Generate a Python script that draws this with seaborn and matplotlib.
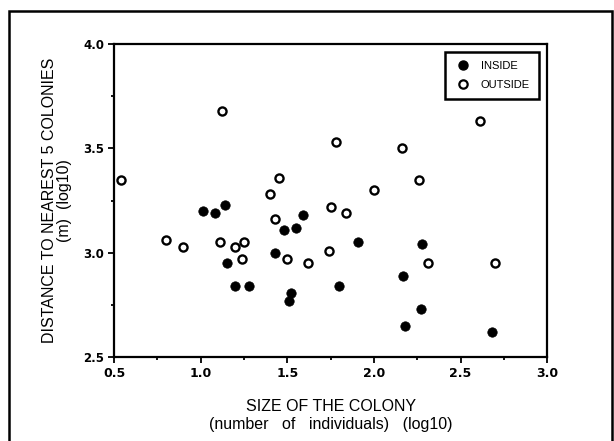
import numpy as np
import pandas as pd
import matplotlib
matplotlib.use("Agg")
import matplotlib.pyplot as plt
import seaborn as sns
from matplotlib.patches import Rectangle
from matplotlib.lines import Line2D
from matplotlib.ticker import MultipleLocator

# ---- data (log10 values) ----
inside_size = [1.01, 1.08, 1.14, 1.15, 1.20, 1.28, 1.43, 1.48, 1.55, 1.59,
               1.52, 1.51, 1.80, 1.91, 2.17, 2.28, 2.27, 2.18, 2.68]
inside_dist = [3.20, 3.19, 3.23, 2.95, 2.84, 2.84, 3.00, 3.11, 3.12, 3.18,
               2.81, 2.77, 2.84, 3.05, 2.89, 3.04, 2.73, 2.65, 2.62]

outside_size = [0.54, 1.12, 1.78, 2.61, 2.16, 1.45, 1.40, 2.00, 2.26, 1.75,
                1.84, 1.43, 0.80, 0.90, 1.11, 1.20, 1.25, 1.24, 1.50, 1.62,
                1.74, 2.31, 2.70]
outside_dist = [3.35, 3.68, 3.53, 3.63, 3.50, 3.36, 3.28, 3.30, 3.35, 3.22,
                3.19, 3.16, 3.06, 3.03, 3.05, 3.03, 3.05, 2.97, 2.97, 2.95,
                3.01, 2.95, 2.95]

df = pd.DataFrame({
    "size": inside_size + outside_size,
    "dist": inside_dist + outside_dist,
    "group": ["INSIDE"] * len(inside_size) + ["OUTSIDE"] * len(outside_size),
})

sns.set_style("ticks", {"text.color": "black", "axes.labelcolor": "black",
                        "xtick.color": "black", "ytick.color": "black"})
plt.rcParams['font.family'] = ['Liberation Sans', 'DejaVu Sans']

fig = plt.figure(figsize=(6.14, 4.41), dpi=100)
ax = fig.add_axes([0.186, 0.19, 0.705, 0.71])

sns.scatterplot(data=df[df.group == "INSIDE"], x="size", y="dist", ax=ax,
                s=46, color="black", edgecolor="black", linewidth=0.5,
                legend=False, zorder=3)
sns.scatterplot(data=df[df.group == "OUTSIDE"], x="size", y="dist", ax=ax,
                s=34, facecolor="white", edgecolor="black", linewidth=1.7,
                legend=False, zorder=3)

ax.set_xlim(0.5, 3.0)
ax.set_ylim(2.5, 4.0)
ax.xaxis.set_major_locator(MultipleLocator(0.5))
ax.xaxis.set_minor_locator(MultipleLocator(0.25))
ax.yaxis.set_major_locator(MultipleLocator(0.5))
ax.yaxis.set_minor_locator(MultipleLocator(0.25))
ax.set_xticklabels([f"{v:.1f}" for v in ax.get_xticks()])
ax.set_yticklabels([f"{v:.1f}" for v in ax.get_yticks()])
for lab in ax.get_xticklabels():
    lab.set_family("DejaVu Sans")
    lab.set_fontweight("bold")
    lab.set_fontsize(9)
    lab.set_color("black")
for lab in ax.get_yticklabels():
    lab.set_family("DejaVu Sans")
    lab.set_fontweight("bold")
    lab.set_fontsize(8.5)
    lab.set_color("black")
ax.tick_params(which="major", direction="out", length=4, width=1.3, pad=3,
               color="black")
ax.tick_params(which="minor", direction="out", length=2.5, width=1.3,
               color="black")

for sp in ax.spines.values():
    sp.set_visible(True)
    sp.set_linewidth(1.6)
    sp.set_color("black")

ax.set_xlabel("SIZE OF THE COLONY\n(number   of   individuals)   (log10)",
              fontsize=11.5, linespacing=1.25, labelpad=14, color="black")
ax.set_ylabel("DISTANCE TO NEAREST 5 COLONIES\n(m)  (log10)",
              fontsize=11.5, linespacing=1.05, labelpad=8, color="black")

handles = [
    Line2D([], [], marker="o", linestyle="", markersize=6.5,
           markerfacecolor="black", markeredgecolor="black"),
    Line2D([], [], marker="o", linestyle="", markersize=6,
           markerfacecolor="white", markeredgecolor="black",
           markeredgewidth=1.6),
]
leg = ax.legend(handles, ["INSIDE", "OUTSIDE"], loc="upper right",
                fontsize=8, frameon=True, fancybox=False, framealpha=1,
                edgecolor="black", borderaxespad=0.7, handletextpad=0.8,
                labelspacing=0.75, borderpad=0.85, handlelength=1.6)
leg.get_frame().set_linewidth(1.8)
for t in leg.get_texts():
    t.set_color("black")

# outer border of the figure panel
fig.patches.append(Rectangle((0.015, -0.05), 0.982, 1.025,
                             transform=fig.transFigure, fill=False,
                             edgecolor="black", linewidth=1.8))

fig.savefig("out.png", dpi=100)
